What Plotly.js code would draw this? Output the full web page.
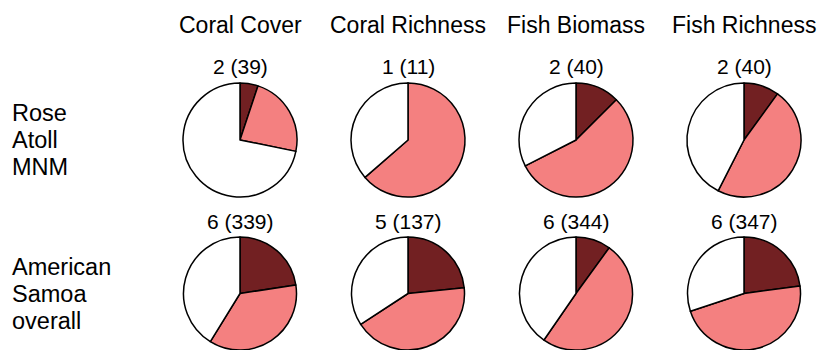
<!DOCTYPE html>
<html>
<head>
<meta charset="utf-8">
<script src="https://cdn.plot.ly/plotly-3.0.1.min.js"></script>
<style>html,body{margin:0;padding:0;background:#fff;}#chart{width:827px;height:350px;}</style>
</head>
<body>
<div id="chart"></div>
<script>
// ---- data ----
const categories = ["Coral Cover", "Coral Richness", "Fish Biomass", "Fish Richness"];
const regions = ["Rose<br>Atoll<br>MNM", "American<br>Samoa<br>overall"];
const sliceNames = ["High", "Medium", "Low"];
const roseLabels = ["2 (39)", "1 (11)", "2 (40)", "2 (40)"];
const samoaLabels = ["6 (339)", "5 (137)", "6 (344)", "6 (347)"];
// slice shares (%) per category
const roseDark  = [5.1, 0, 12.5, 10];
const roseMid   = [23.1, 63.6, 55, 47.5];
const roseWhite = [71.8, 36.4, 32.5, 42.5];
const samoaDark  = [22.6, 23.4, 10, 22.9];
const samoaMid   = [36.2, 42.4, 49.6, 47];
const samoaWhite = [41.2, 34.2, 40.4, 30.1];

// ---- layout helpers ----
const W = 827, H = 350;
const colX = [240, 408, 576, 744];
const rowY = [140, 294];
const R = 57;
const colors = ["#722022", "#F48080", "#FFFFFF"];
const FONT = "Liberation Sans, Arial, sans-serif";

const rows = [
  {dark: roseDark, mid: roseMid, white: roseWhite, labels: roseLabels},
  {dark: samoaDark, mid: samoaMid, white: samoaWhite, labels: samoaLabels}
];

const traces = [];
const annotations = [];
rows.forEach((row, ri) => {
  categories.forEach((cat, ci) => {
    const cx = colX[ci], cy = rowY[ri];
    let y0 = 1 - (cy + R) / H, y1 = 1 - (cy - R) / H;
    if (y0 < 0) { y0 = 0; }
    traces.push({
      type: "pie",
      labels: sliceNames,
      values: [row.dark[ci], row.mid[ci], row.white[ci]],
      sort: false,
      direction: "clockwise",
      rotation: 0,
      textinfo: "none",
      hoverinfo: "label+percent",
      showlegend: false,
      marker: {colors: colors, line: {color: "#000", width: 1.5}},
      domain: {x: [(cx - R) / W, (cx + R) / W], y: [y0, y1]}
    });
    annotations.push({
      text: row.labels[ci], x: cx / W, y: 1 - (cy - R - 16) / H,
      xref: "paper", yref: "paper", showarrow: false,
      xanchor: "center", yanchor: "middle",
      font: {family: FONT, size: 21, color: "#000"}
    });
  });
});
categories.forEach((cat, ci) => {
  annotations.push({
    text: cat, x: colX[ci] / W, y: 1 - 25 / H,
    xref: "paper", yref: "paper", showarrow: false,
    xanchor: "center", yanchor: "middle",
    font: {family: FONT, size: 23, color: "#000"}
  });
});
regions.forEach((reg, ri) => {
  const lines = reg.split("<br>");
  lines.forEach((ln, li) => {
    annotations.push({
      text: ln, x: 10 / W, y: 1 - (rowY[ri] + (li - 1) * 27) / H,
      xref: "paper", yref: "paper", showarrow: false,
      xanchor: "left", yanchor: "middle", align: "left",
      font: {family: FONT, size: 23.5, color: "#000"}
    });
  });
});

Plotly.newPlot("chart", traces, {
  width: W, height: H, autosize: false,
  margin: {l: 0, r: 0, t: 0, b: 0},
  paper_bgcolor: "#fff", plot_bgcolor: "#fff",
  annotations: annotations
}, {staticPlot: true});
</script>
</body>
</html>
